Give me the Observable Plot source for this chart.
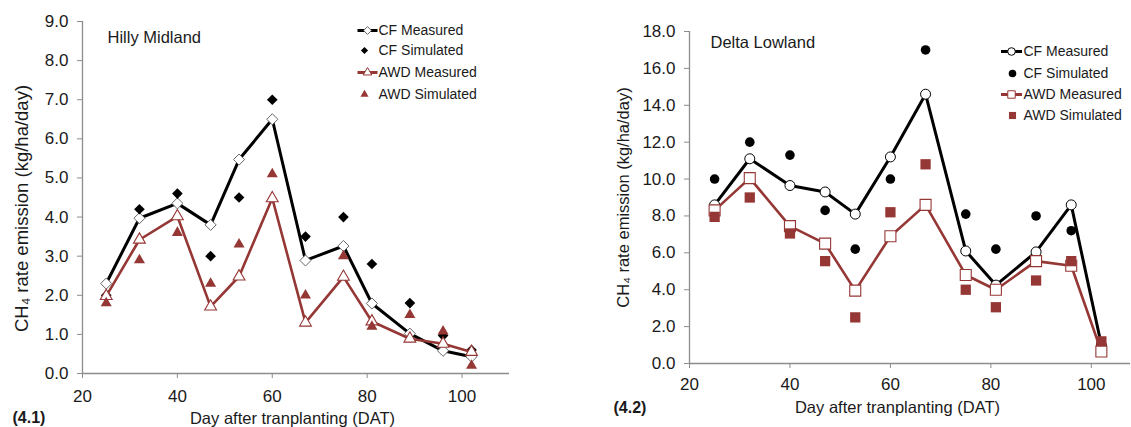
<!DOCTYPE html>
<html><head><meta charset="utf-8">
<script src="https://cdn.jsdelivr.net/npm/d3@7"></script>
<script src="https://cdn.jsdelivr.net/npm/@observablehq/plot@0.6"></script>
<style>
body{margin:0;background:#fff;}
#wrap{position:relative;width:1131px;height:427px;overflow:hidden;background:#fff;}
#wrap svg{position:absolute;top:0;}
</style></head><body><div id="wrap"></div>
<script>
// ---- data ----
const days = [25, 32, 40, 47, 53, 60, 67, 75, 81, 89, 96, 102];
const xTicks = [20, 40, 60, 80, 100];

const hillyCFMeasured  = [2.3, 3.97, 4.35, 3.8, 5.47, 6.5, 2.89, 3.26, 1.79, 1.02, 0.58, 0.43];
const hillyCFSimulated = [2.0, 4.2, 4.6, 3.0, 4.5, 7.0, 3.5, 4.0, 2.8, 1.8, 0.97, 0.6];
const hillyAWDMeasured = [1.98, 3.42, 4.02, 1.71, 2.48, 4.48, 1.3, 2.47, 1.33, 0.89, 0.76, 0.55];
const hillyAWDSimulated= [1.8, 2.9, 3.6, 2.3, 3.3, 5.1, 2.0, 3.0, 1.2, 1.5, 1.08, 0.2];
const hillyYTicks = [0, 1, 2, 3, 4, 5, 6, 7, 8, 9];

const deltaCFMeasured  = [8.6, 11.1, 9.65, 9.3, 8.1, 11.2, 14.6, 6.1, 4.25, 6.05, 8.6, 1.0];
const deltaCFSimulated = [10.0, 12.0, 11.3, 8.3, 6.2, 10.0, 17.0, 8.1, 6.2, 8.0, 7.2, 1.0];
const deltaAWDMeasured = [8.3, 10.05, 7.45, 6.5, 3.95, 6.9, 8.6, 4.8, 4.0, 5.55, 5.3, 0.65];
const deltaAWDSimulated= [7.95, 9.0, 7.05, 5.55, 2.5, 8.2, 10.8, 4.0, 3.05, 4.5, 5.55, 1.2];
const deltaYTicks = [0, 2, 4, 6, 8, 10, 12, 14, 16, 18];

const seriesNames = ["CF Measured", "CF Simulated", "AWD Measured", "AWD Simulated"];
const yLabel = "CH\u2084 rate emission (kg/ha/day)";
const xLabel = "Day after tranplanting (DAT)";

// ---- style ----
const RED = "#953735";
const FONT = "'Liberation Sans', Arial, Helvetica, sans-serif";
const TXT = "#1a1a1a";
const AX = "#8c8c8c";

const toRows = arr => days.map((d, i) => ({day: d, v: arr[i]}));
const hline = half => ({draw(ctx) { ctx.moveTo(-half, 0); ctx.lineTo(half, 0); }});

function panel(c) {
  const fx = c.ml, fy = c.mt; // frame top-left in svg coords
  const L = (absX) => absX - c.left - fx;
  const T = (absY) => absY - fy;
  const cfM = toRows(c.cfM), cfS = toRows(c.cfS), awM = toRows(c.awM), awS = toRows(c.awS);
  const marks = [
    Plot.ruleX([c.xDomain[0]], {stroke: AX, strokeWidth: 1.3}),
    Plot.ruleY([0], {stroke: AX, strokeWidth: 1.3}),
    Plot.axisY({ticks: c.yTicks, tickFormat: ".1f", tickSize: 5, tickPadding: 9, fontSize: 17,
                stroke: AX, fill: TXT, label: null}),
    Plot.axisX({ticks: xTicks, tickSize: 5, tickPadding: c.xPad, fontSize: 17,
                stroke: AX, fill: TXT, label: null}),
    // CF measured
    Plot.line(cfM, {x: "day", y: "v", stroke: "#000", strokeWidth: 3}),
    Plot.dot(cfM, {x: "day", y: "v", symbol: c.mSym, r: c.mR, fill: "#fff", stroke: c.cfMStroke, strokeWidth: 1}),
    // CF simulated
    Plot.dot(cfS, {x: "day", y: "v", symbol: c.sSym, r: c.sR, fill: "#000", stroke: "none"}),
    // AWD measured
    Plot.line(awM, {x: "day", y: "v", stroke: RED, strokeWidth: 2.6}),
    Plot.dot(awM, {x: "day", y: "v", symbol: c.amSym, r: c.amR, fill: "#fff", stroke: RED, strokeWidth: 1.1}),
    // AWD simulated
    Plot.dot(awS, {x: "day", y: "v", symbol: c.asSym, r: c.asR, fill: RED, stroke: "none"}),
    // title
    Plot.text([c.title], {frameAnchor: "top-left", dx: L(c.titleX), dy: T(c.titleY), text: d => d,
      textAnchor: "start", lineAnchor: "middle", fontSize: 16.5, fill: TXT}),
    // y label
    Plot.text([yLabel], {frameAnchor: "left", dx: L(c.yLabX), dy: c.yLabDy, rotate: -90, text: d => d,
      textAnchor: "middle", lineAnchor: "middle", fontSize: c.yLabSize, fill: TXT}),
    // x label
    Plot.text([xLabel], {frameAnchor: "bottom-left", dx: L(c.xLabX), dy: c.xLabY - (c.h - c.mb), text: d => d,
      textAnchor: "middle", lineAnchor: "middle", fontSize: 16.5, fill: TXT}),
    // panel label
    Plot.text([c.panelLabel], {frameAnchor: "bottom-left", dx: L(c.pX), dy: c.pY - (c.h - c.mb), text: d => d,
      textAnchor: "start", lineAnchor: "middle", fontSize: 16, fontWeight: "bold", fill: TXT})
  ];
  // legend
  const lg = c.legend;
  const rows = [
    {line: "#000", sym: c.mSym, r: c.lgR[0], fill: "#fff", stroke: c.cfMStroke},
    {line: null, sym: c.sSym, r: c.lgR[1], fill: "#000", stroke: "none"},
    {line: RED, sym: c.amSym, r: c.lgR[2], fill: "#fff", stroke: RED},
    {line: null, sym: c.asSym, r: c.lgR[3], fill: RED, stroke: "none"}
  ];
  rows.forEach((rw, i) => {
    const yy = T(lg.ys[i]);
    if (rw.line) {
      marks.push(Plot.dot([0], {frameAnchor: "top-left", dx: L(lg.lineX), dy: yy, symbol: hline(lg.half), r: 3,
        fill: "none", stroke: rw.line, strokeWidth: 3}));
      marks.push(Plot.dot([0], {frameAnchor: "top-left", dx: L(lg.lineX), dy: yy, symbol: rw.sym, r: rw.r,
        fill: rw.fill, stroke: rw.stroke, strokeWidth: 1}));
    } else {
      marks.push(Plot.dot([0], {frameAnchor: "top-left", dx: L(lg.symX), dy: yy, symbol: rw.sym, r: rw.r,
        fill: rw.fill, stroke: rw.stroke}));
    }
    marks.push(Plot.text([seriesNames[i]], {frameAnchor: "top-left", dx: L(lg.textX), dy: yy, text: d => d,
      textAnchor: "start", lineAnchor: "middle", fontSize: 14, fill: TXT}));
  });

  const svg = Plot.plot({
    width: c.w, height: c.h,
    marginLeft: c.ml, marginTop: c.mt, marginBottom: c.mb, marginRight: c.mr,
    style: {fontFamily: FONT, background: "transparent", overflow: "visible"},
    x: {domain: c.xDomain},
    y: {domain: [0, c.yTicks[c.yTicks.length - 1]]},
    marks
  });
  svg.style.left = c.left + "px";
  return svg;
}

const wrap = document.getElementById("wrap");
wrap.appendChild(panel({
  left: 0, w: 560, h: 427, ml: 82, mt: 21, mb: 427 - 373, mr: 560 - 509,
  xDomain: [20, 110], yTicks: hillyYTicks, xPad: 11,
  cfM: hillyCFMeasured, cfS: hillyCFSimulated, awM: hillyAWDMeasured, awS: hillyAWDSimulated,
  mSym: "diamond2", mR: 5, cfMStroke: "#666", sSym: "diamond2", sR: 4.8,
  amSym: "triangle", amR: 4.4, asSym: "triangle", asR: 4.1,
  title: "Hilly Midland", titleX: 107, titleY: 37,
  yLabX: 22, yLabDy: 11, yLabSize: 18.5,
  xLabX: 292, xLabY: 418, panelLabel: "(4.1)", pX: 12, pY: 417,
  legend: {ys: [30, 50, 72, 94], lineX: 367, half: 10, symX: 364, textX: 378},
  lgR: [3.5, 3.2, 3.2, 3.0]
}));
wrap.appendChild(panel({
  left: 560, w: 571, h: 427, ml: 129, mt: 31, mb: 427 - 363, mr: 1,
  xDomain: [20, 107.8], yTicks: deltaYTicks, xPad: 9,
  cfM: deltaCFMeasured, cfS: deltaCFSimulated, awM: deltaAWDMeasured, awS: deltaAWDSimulated,
  mSym: "circle", mR: 5, cfMStroke: "#000", sSym: "circle", sR: 4.8,
  amSym: "square", amR: 6.2, asSym: "square", asR: 5.8,
  title: "Delta Lowland", titleX: 710, titleY: 42,
  yLabX: 623, yLabDy: 0, yLabSize: 16.5,
  xLabX: 897, xLabY: 407, panelLabel: "(4.2)", pX: 613, pY: 407,
  legend: {ys: [51, 73, 94, 115], lineX: 1011, half: 10.5, symX: 1012, textX: 1023},
  lgR: [3.8, 3.8, 4.2, 4.0]
}));
</script></body></html>
